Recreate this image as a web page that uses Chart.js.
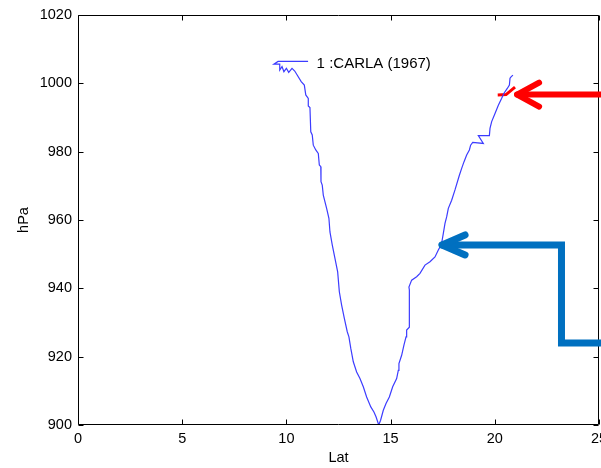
<!DOCTYPE html>
<html>
<head>
<meta charset="utf-8">
<title>CARLA (1967) - pressure vs latitude</title>
<script src="https://cdn.jsdelivr.net/npm/chart.js@4.4.1/dist/chart.umd.min.js"></script>
<style>
    html, body { margin: 0; padding: 0; background: #fff; }
    canvas { display: block; }
</style>
</head>
<body>
<canvas id="trackChart" width="601" height="468"></canvas>
<script>
// track of storm 1, latitude (deg) and central pressure (hPa), in plotting order
const trackLat = [
    11.04, 9.60, 9.40, 9.68, 9.68, 9.79, 9.88, 10.00, 10.11, 10.27, 10.40, 10.71, 10.86, 10.93,
    11.05, 11.05, 11.13, 11.17, 11.24, 11.29, 11.41, 11.53, 11.58, 11.65, 11.66, 11.72, 11.77,
    11.93, 12.04, 12.09, 12.20, 12.33, 12.46, 12.54, 12.65, 12.78, 12.92, 13.00, 13.09, 13.21,
    13.37, 13.53, 13.69, 13.85, 14.05, 14.20, 14.30, 14.43,
    14.52, 14.65, 14.78, 14.94, 15.10, 15.29, 15.37, 15.40, 15.53, 15.64, 15.74, 15.77, 15.90,
    15.90, 15.88, 16.01, 16.25, 16.41, 16.65, 16.89, 17.13, 17.29, 17.44, 17.53, 17.61, 17.69,
    17.77, 17.93, 18.09, 18.30, 18.41, 18.52, 18.65, 18.78, 18.84, 18.94, 19.45, 19.21, 19.74,
    19.77, 19.85, 20.01, 20.17, 20.33, 20.44, 20.60, 20.70, 20.73, 20.78, 20.87
];
const trackPres = [
    1006.4, 1006.4, 1005.6, 1005.6, 1003.9, 1004.9, 1003.4, 1004.4, 1003.2, 1004.4, 1003.6, 1000.5, 999.5, 996.6,
    995.6, 993.4, 992.9, 985.8, 984.9, 981.9, 980.5, 979.5, 976.1, 975.6, 971.2, 970.2, 967.3,
    963.4, 960.5, 956.5, 952.7, 948.8, 944.8, 939.0, 935.1, 931.2, 927.3, 925.8, 922.4, 918.5,
    915.5, 913.6, 911.2, 908.2, 905.3, 903.8, 902.4, 900.0,
    901.4, 904.3, 906.3, 908.2, 911.2, 913.6, 916.0, 918.0, 920.4, 923.4, 925.8, 927.8, 928.6,
    939.5, 940.4, 942.4, 943.4, 944.4, 946.8, 947.8, 949.2, 951.2, 952.9, 956.1, 959.0, 960.9,
    963.4, 965.8, 968.8, 973.1, 975.1, 977.0, 979.0, 980.5, 981.9, 982.7, 982.4, 984.7, 984.7,
    986.8, 988.8, 991.2, 993.6, 995.6, 997.1, 998.5, 999.5, 1001.5, 1001.9, 1002.4
];

// highlighted piece of the track (red)
const markLat = [20.14, 20.54, 20.97];
const markPres = [996.6, 996.7, 998.9];

const trackLabel = '1 :CARLA (1967)';
const labelPos = { lat: 11.45, pres: 1005.7 };

// annotation arrows, in data units; the last point is the tip
const redArrowLat = [26.5, 21.07];
const redArrowPres = [996.7, 996.7];
const blueArrowLat = [26.5, 23.20, 23.20, 17.47];
const blueArrowPres = [924.0, 924.0, 952.7, 952.7];

const xTicks = [0, 5, 10, 15, 20, 25];
const yTicks = [900, 920, 940, 960, 980, 1000, 1020];

const FONT = 'Liberation Sans, Arial, sans-serif';

function toPoints(xs, ys) {
    return xs.map((x, i) => ({ x: x, y: ys[i] }));
}

document.addEventListener('DOMContentLoaded', function() {
    const canvas = document.getElementById('trackChart');
    const ctx = canvas.getContext('2d');

    // matlab-style box with inward ticks, label text and arrows
    const decorPlugin = {
        id: 'decor',
        afterDraw(chart) {
            const c = chart.ctx;
            const area = chart.chartArea;
            const xs = chart.scales.x;
            const ys = chart.scales.y;
            const L = Math.round(area.left) + 0.5;
            const R = Math.round(area.right) - 0.5;
            const T = Math.round(area.top) + 0.5;
            const B = Math.round(area.bottom) - 0.5;
            const tick = 5;

            c.save();
            c.strokeStyle = '#000';
            c.lineWidth = 1;
            c.beginPath();
            c.rect(L, T, R - L, B - T);
            xTicks.forEach(v => {
                const px = Math.round(xs.getPixelForValue(v)) + 0.5;
                c.moveTo(px, B); c.lineTo(px, B - tick);
                c.moveTo(px, T); c.lineTo(px, T + tick);
            });
            yTicks.forEach(v => {
                const py = Math.round(ys.getPixelForValue(v)) + 0.5;
                c.moveTo(L, py); c.lineTo(L + tick, py);
                c.moveTo(R, py); c.lineTo(R - tick, py);
            });
            c.stroke();

            c.fillStyle = '#000';
            c.font = '15px ' + FONT;
            c.textAlign = 'left';
            c.textBaseline = 'middle';
            c.fillText(trackLabel, xs.getPixelForValue(labelPos.lat), ys.getPixelForValue(labelPos.pres));

            drawArrow(c, xs, ys, redArrowLat, redArrowPres, '#ff0000', 6, 22, 12);
            drawArrow(c, xs, ys, blueArrowLat, blueArrowPres, '#0070c0', 7, 23, 10);
            c.restore();
        }
    };

    function drawArrow(c, xs, ys, lats, pres, color, width, headLen, headHalf) {
        const pts = lats.map((v, i) => ({ x: xs.getPixelForValue(v), y: ys.getPixelForValue(pres[i]) }));
        c.strokeStyle = color;
        c.lineWidth = width;
        c.lineCap = 'round';
        c.lineJoin = 'miter';
        c.beginPath();
        c.moveTo(pts[0].x, pts[0].y);
        for (let i = 1; i < pts.length; i++) c.lineTo(pts[i].x, pts[i].y);
        c.stroke();
        const tip = pts[pts.length - 1];
        c.lineJoin = 'round';
        c.beginPath();
        c.moveTo(tip.x + headLen, tip.y - headHalf);
        c.lineTo(tip.x, tip.y);
        c.lineTo(tip.x + headLen, tip.y + headHalf);
        c.stroke();
    }

    const plainTick = v => String(v);

    new Chart(ctx, {
        type: 'scatter',
        data: {
            datasets: [{
                data: toPoints(trackLat, trackPres),
                showLine: true,
                borderColor: 'rgb(60, 60, 255)',
                borderWidth: 1.2,
                pointRadius: 0,
                tension: 0
            }, {
                data: toPoints(markLat, markPres),
                showLine: true,
                borderColor: '#ff0000',
                borderWidth: 3,
                pointRadius: 0,
                tension: 0
            }]
        },
        options: {
            responsive: false,
            animation: false,
            events: [],
            layout: { padding: { top: 15, right: 2, bottom: 0, left: 0 } },
            plugins: {
                legend: { display: false },
                tooltip: { enabled: false }
            },
            scales: {
                x: {
                    type: 'linear',
                    min: 0,
                    max: 25,
                    afterBuildTicks: s => { s.ticks = xTicks.map(v => ({ value: v })); },
                    ticks: { color: '#000', font: { family: FONT, size: 14.5 }, padding: 5, maxRotation: 0, callback: plainTick },
                    grid: { display: false, drawTicks: false },
                    border: { display: false },
                    title: {
                        display: true,
                        text: 'Lat',
                        color: '#000',
                        font: { family: FONT, size: 14.5, lineHeight: 1.2 },
                        padding: { top: 0, bottom: 1 }
                    },
                    afterFit: s => { s.height = 43; s.paddingLeft = 0; s.paddingRight = 0; }
                },
                y: {
                    type: 'linear',
                    min: 900,
                    max: 1020,
                    afterBuildTicks: s => { s.ticks = yTicks.map(v => ({ value: v })); },
                    ticks: { color: '#000', font: { family: FONT, size: 14.5 }, padding: 6, callback: plainTick },
                    grid: { display: false, drawTicks: false },
                    border: { display: false },
                    title: {
                        display: true,
                        text: 'hPa',
                        color: '#000',
                        font: { family: FONT, size: 14.5, lineHeight: 1.2 },
                        padding: { top: 15, bottom: 0 }
                    },
                    afterFit: s => { s.width = 78; s.paddingTop = 0; s.paddingBottom = 0; }
                }
            }
        },
        plugins: [decorPlugin]
    });
});
</script>
</body>
</html>
